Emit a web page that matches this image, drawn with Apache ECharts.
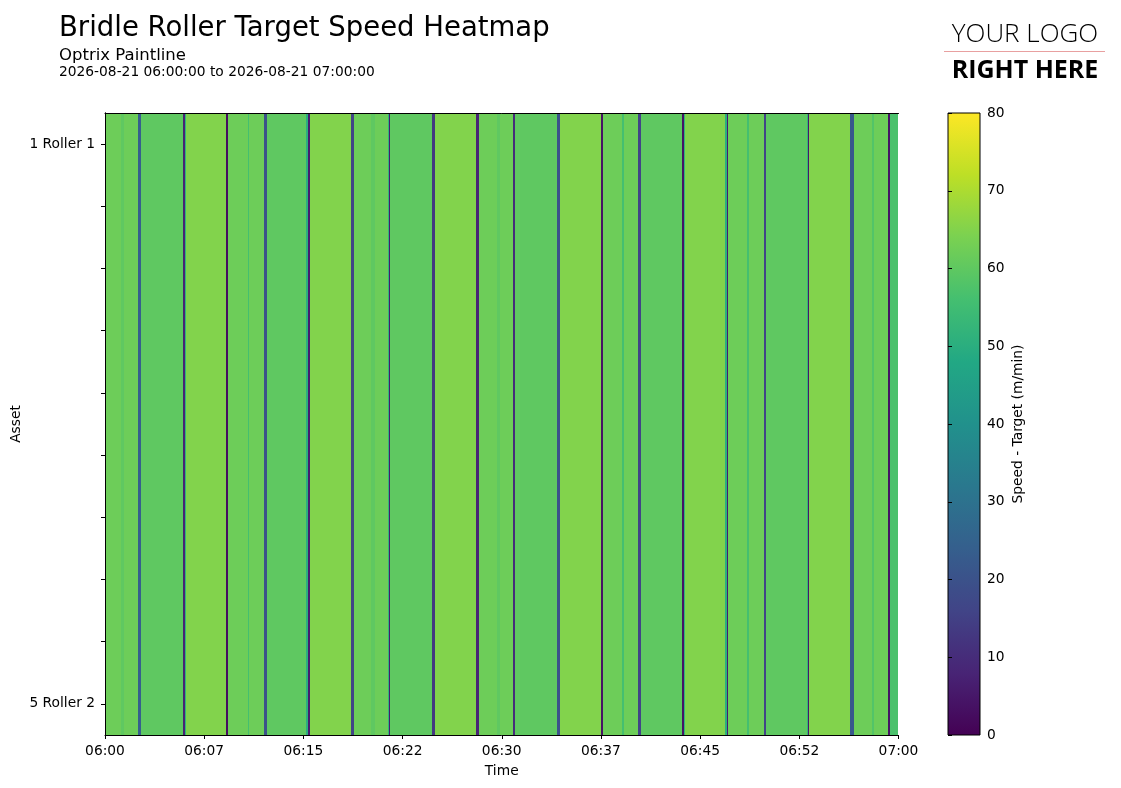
<!DOCTYPE html>
<html>
<head>
<meta charset="utf-8">
<script src="https://cdn.jsdelivr.net/npm/echarts@6/dist/echarts.min.js"></script>
<style>
html,body{margin:0;padding:0;background:#fff;}
#chart{width:1121px;height:788px;}
</style>
</head>
<body>
<div id="chart"></div>
<script>
// ---- data ----
const assetRows = ["1 Roller 1","1 Roller 2","2 Roller 1","2 Roller 2","3 Roller 1","3 Roller 2","4 Roller 1","4 Roller 2","5 Roller 1","5 Roller 2"];
const labelledRows = ["1 Roller 1", "5 Roller 2"];
const timeTickLabels = ["06:00","06:07","06:15","06:22","06:30","06:37","06:45","06:52","07:00"];
// seconds after 06:00 where each speed segment begins
const segmentStartSec = [
  0, 73, 86, 150, 163, 354, 361, 368, 551, 560,
  649, 655, 721, 735, 914, 919, 930, 1118, 1130, 1207,
  1225, 1284, 1289, 1295, 1484, 1497, 1683, 1695, 1779, 1792,
  1851, 1862, 2051, 2064, 2250, 2259, 2346, 2355, 2418, 2432,
  2618, 2627, 2631, 2813, 2822, 2827, 2913, 2922, 2988, 2997,
  3185, 3189, 3194, 3380, 3396, 3482, 3489, 3552, 3563
];
const segmentSpeed = [
  62, 60, 62, 24, 60, 8, 52, 65, 3, 62,
  56, 62, 20, 60, 50, 6, 65, 16, 62, 60,
  62, 52, 6, 60, 13, 65, 8, 62, 60, 62,
  10, 60, 20, 65, 4, 62, 56, 62, 16, 60,
  4, 52, 65, 50, 6, 62, 56, 62, 16, 60,
  52, 5, 65, 22, 62, 58, 62, 4, 57
];
const lastSampleEndSec = 3596;
const colorMin = 0, colorMax = 80;
const viridis = ["#440154","#482475","#414487","#355f8d","#2a788e","#21918c","#22a884","#44bf70","#7ad151","#bddf26","#fde725"];

// ---- build series data ----
const heatData = [];
for (let r = 0; r < assetRows.length; r++) {
  for (let i = 0; i < segmentStartSec.length; i++) {
    const end = i + 1 < segmentStartSec.length ? segmentStartSec[i + 1] : lastSampleEndSec;
    heatData.push([segmentStartSec[i], end, r, segmentSpeed[i]]);
  }
}

const FONT = "DejaVu Sans";
const chart = echarts.init(document.getElementById('chart'));
const axisLineStyle = {show: true, lineStyle: {color: '#000', width: 1}};

chart.setOption({
  animation: false,
  backgroundColor: '#fff',
  textStyle: {fontFamily: FONT, color: '#000'},
  title: [
    {text: 'Bridle Roller Target Speed Heatmap', left: 54, top: 10,
     textStyle: {fontFamily: FONT, fontSize: 27.5, fontWeight: 'normal', color: '#000'}},
    {text: 'Optrix Paintline', left: 54, top: 42,
     textStyle: {fontFamily: FONT, fontSize: 16.5, fontWeight: 'normal', color: '#000'}},
    {text: '2026-08-21 06:00:00 to 2026-08-21 07:00:00', left: 54, top: 60,
     textStyle: {fontFamily: FONT, fontSize: 13.8, fontWeight: 'normal', color: '#000'}}
  ],
  graphic: [
    {type: 'text', x: 1025, y: 35, style: {text: 'YOUR LOGO', font: '300 26px "Open Sans"', fill: '#000', align: 'center', verticalAlign: 'middle'}},
    {type: 'line', shape: {x1: 944, y1: 51.5, x2: 1105, y2: 51.5}, style: {stroke: '#e8a0a0', lineWidth: 1}},
    {type: 'text', x: 1025, y: 71, style: {text: 'RIGHT HERE', font: 'bold 25px "Open Sans"', fill: '#000', align: 'center', verticalAlign: 'middle'}}
  ],
  grid: [
    {left: 105, top: 113, right: 222.5, bottom: 53, containLabel: false, outerBoundsMode: 'none'},
    {left: 948, top: 113, width: 32, height: 622, containLabel: false, outerBoundsMode: 'none'}
  ],
  visualMap: {
    type: 'continuous', show: false, min: colorMin, max: colorMax,
    seriesIndex: 0, dimension: 3, inRange: {color: viridis}
  },
  xAxis: [
    {type: 'value', gridIndex: 0, min: 0, max: 3600, interval: 450, z: 10,
     name: 'Time', nameLocation: 'middle', nameGap: 29, nameMoveOverlap: false,
     nameTextStyle: {fontFamily: FONT, fontSize: 13.8, color: '#000'},
     axisLine: axisLineStyle,
     axisTick: {show: true, length: 4, lineStyle: {color: '#000'}},
     axisLabel: {fontFamily: FONT, fontSize: 13.8, color: '#000', margin: 9,
       formatter: (v) => timeTickLabels[Math.round(v / 450)]},
     splitLine: {show: false}},
    {type: 'value', gridIndex: 0, position: 'top', min: 0, max: 3600, z: 10,
     axisLine: axisLineStyle, axisTick: {show: false}, axisLabel: {show: false}, splitLine: {show: false}},
    {type: 'value', gridIndex: 1, min: 0, max: 1, show: false}
  ],
  yAxis: [
    {type: 'category', gridIndex: 0, data: assetRows, inverse: true, z: 10,
     name: 'Asset', nameLocation: 'middle', nameGap: 82, nameMoveOverlap: false,
     nameTextStyle: {fontFamily: FONT, fontSize: 13.8, color: '#000'},
     axisLine: axisLineStyle,
     axisTick: {show: true, length: 4, interval: 0, alignWithLabel: true, lineStyle: {color: '#000'}},
     axisLabel: {interval: 0, fontFamily: FONT, fontSize: 13.8, color: '#000', margin: 10,
       formatter: (v) => labelledRows.indexOf(v) >= 0 ? v : ''},
     splitLine: {show: false}},
    {type: 'category', gridIndex: 0, data: assetRows, inverse: true, position: 'right', z: 10,
     axisLine: axisLineStyle, axisTick: {show: false}, axisLabel: {show: false}, splitLine: {show: false}},
    {type: 'value', gridIndex: 1, position: 'right', min: colorMin, max: colorMax, interval: 10, z: 10,
     name: 'Speed - Target (m/min)', nameLocation: 'middle', nameGap: 31, nameMoveOverlap: false,
     nameTextStyle: {fontFamily: FONT, fontSize: 13.8, color: '#000'},
     axisLine: {show: false},
     axisTick: {show: true, length: 4, lineStyle: {color: '#000'}},
     axisLabel: {fontFamily: FONT, fontSize: 13.8, color: '#000', margin: 7},
     splitLine: {show: false}}
  ],
  series: [
    {
      type: 'custom', xAxisIndex: 0, yAxisIndex: 0, clip: true,
      dimensions: ['start', 'end', 'row', 'speed'],
      encode: {x: ['start', 'end'], y: 'row'},
      data: heatData,
      renderItem: function (params, api) {
        const p0 = api.coord([api.value(0), api.value(2)]);
        const p1 = api.coord([api.value(1), api.value(2)]);
        const h = api.size([0, 1])[1];
        const x0 = Math.round(p0[0]), x1 = Math.round(p1[0]);
        const y0 = Math.round(p0[1] - h / 2), y1 = Math.round(p0[1] + h / 2);
        return {
          type: 'rect',
          shape: {x: x0, y: y0, width: x1 - x0, height: y1 - y0},
          style: {fill: api.visual('color')}
        };
      }
    },
    {
      type: 'custom', xAxisIndex: 2, yAxisIndex: 2, clip: false,
      data: [[0, 1, colorMin, colorMax]],
      encode: {x: [0, 1], y: [2, 3]},
      renderItem: function (params, api) {
        const a = api.coord([api.value(0), api.value(2)]);
        const b = api.coord([api.value(1), api.value(3)]);
        const stops = viridis.map((c, i) => ({offset: i / (viridis.length - 1), color: c}));
        return {
          type: 'rect',
          shape: {x: a[0], y: b[1], width: b[0] - a[0], height: a[1] - b[1]},
          style: {fill: new echarts.graphic.LinearGradient(0, 1, 0, 0, stops), stroke: '#000', lineWidth: 1}
        };
      }
    }
  ]
});
</script>
</body>
</html>
